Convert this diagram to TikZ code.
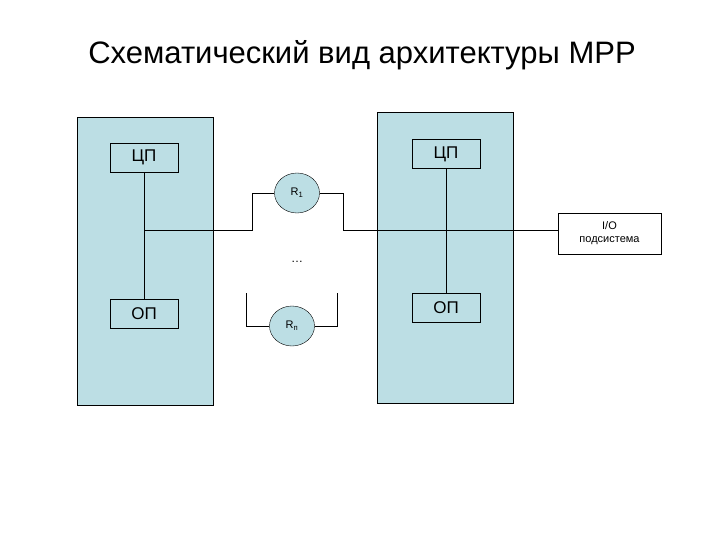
\documentclass[tikz,border=0pt]{standalone}
\usepackage{fontspec}
\setmainfont{Liberation Sans}
\usetikzlibrary{shapes.geometric}
\definecolor{pan}{RGB}{188,222,228}
\begin{document}
\begin{tikzpicture}[x=1pt,y=-1pt,
  panel/.style={draw,fill=pan,line width=0.6pt},
  box/.style={draw,fill=pan,minimum width=68pt,minimum height=29pt,inner sep=0pt,font=\fontsize{17}{17}\selectfont},
  ring/.style={draw,fill=pan,ellipse,minimum width=45pt,minimum height=40pt,inner sep=0pt,font=\fontsize{11}{11}\selectfont},
  wire/.style={line width=0.6pt}]
\useasboundingbox (0,0) rectangle (720,540);
\node (title) at (362,55) {\fontsize{31}{31}\selectfont Схематический вид архитектуры MPP};
\draw[panel] (77,117) rectangle (213,405);
\draw[panel] (377,112) rectangle (513,403);
\node[box] (cp1) at (144,157.5) {ЦП};
\node[box] (cp2) at (446,154) {ЦП};
\node[box] (op1) at (144,314) {ОП};
\node[box] (op2) at (446,307.5) {ОП};
\node[draw,fill=white,minimum width=103pt,minimum height=41pt,inner sep=0pt,align=center,font=\fontsize{11}{13}\selectfont] (io) at (609.5,233.5) {I/O\\подсистема};
\node[ring] (r1) at (297,193) {R\textsubscript{1}};
\node[ring] (rn) at (292,326) {R\textsubscript{п}};
\node (dots) at (297,262) {\fontsize{12}{12}\selectfont …};
\draw[wire] (cp1) -- (op1);
\draw[wire] (cp2) -- (op2);
\coordinate (j) at (144,230);
\coordinate (ioin) at (io.west |- j);
\draw[wire] (j) -- (252,230) |- (r1.west);
\draw[wire] (r1.east) -| (343,230) -- (ioin);
\draw[wire] (246,293) |- (rn.west);
\draw[wire] (rn.east) -| (337,293);
\end{tikzpicture}
\end{document}
